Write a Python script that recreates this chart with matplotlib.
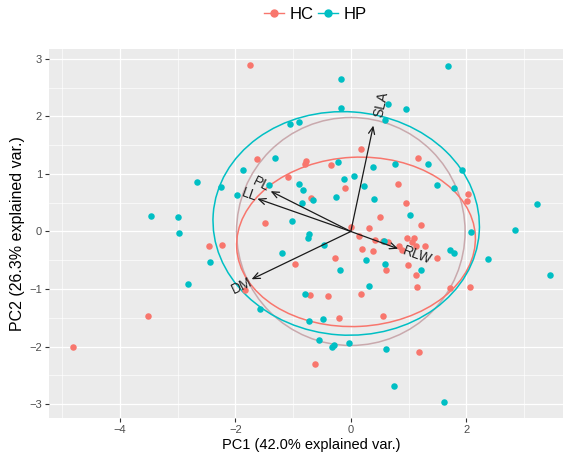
import numpy as np
import matplotlib
matplotlib.use("Agg")
import matplotlib.pyplot as plt
from matplotlib.patches import Ellipse, Circle
from matplotlib.lines import Line2D

plt.rcParams['font.family'] = ['Liberation Sans', 'DejaVu Sans']

# PCA scores
hc_x = [-1.75, -1.63, -1.09, -1.49, 0.17, -0.77, -0.79, -0.35, 1.16, -0.10,
        0.82, 2.03, 2.02, -0.69, 0.96, 0.51, 1.22, 0.00, 0.31, 0.97,
        1.09, 1.06, 0.14, 0.42, 0.55, 0.65, 0.19, 0.39, 0.84, 0.88,
        1.13, 1.29, 1.49, -0.28, 0.61, 0.99, 1.13, -0.96, 1.14, 1.72,
        2.07, -0.70, -0.40, 0.17, -0.21, 0.56, 1.18, -0.62, -2.45, -2.24,
        -1.83, -3.52, -4.82]
hc_y = [2.89, 1.26, 0.94, 0.15, 1.43, 1.23, 1.18, 1.15, 1.27, 0.75,
        0.82, 0.65, 0.53, 0.58, 0.50, 0.26, 0.11, 0.08, 0.06, -0.12,
        -0.12, -0.18, -0.08, -0.14, -0.16, -0.19, -0.30, -0.34, -0.26, -0.32,
        -0.25, -0.25, -0.46, -0.46, -0.67, -0.59, -0.75, -0.56, -0.96, -0.98,
        -0.97, -1.11, -1.12, -1.08, -1.51, -1.47, -2.10, -2.31, -0.26, -0.23,
        -1.02, -1.47, -2.00]

hp_x = [-1.05, -0.90, -1.32, -1.87, -0.89, -2.66, -2.25, -1.98, -1.41, -1.02,
        -3.46, -2.99, -2.98, -1.20, -2.44, -2.83, -1.58, 1.68, -0.17, -0.17,
        0.65, 0.96, 0.60, -0.23, 0.39, 0.77, 1.34, 1.92, -0.11, 0.05,
        -0.83, 0.22, 1.50, 1.79, -0.66, -0.25, 0.40, -0.85, 1.03, 3.22,
        2.08, 2.85, -0.73, -0.74, 0.58, -0.46, 1.72, 1.79, 2.37, 3.46,
        0.27, 0.59, 1.21, -0.19, 0.31, -0.79, -0.72, -0.49, -0.56, -0.32,
        -0.29, -0.03, 0.61, 0.75, 1.61]
hp_y = [1.87, 1.90, 1.27, 1.07, 0.83, 0.86, 0.78, 0.64, 0.81, 0.19,
        0.27, 0.26, -0.03, -0.37, -0.53, -0.92, -1.35, 2.87, 2.65, 2.14,
        2.22, 2.12, 1.93, 1.21, 1.12, 1.18, 1.18, 1.07, 0.91, 0.97,
        0.72, 0.79, 0.81, 0.75, 0.55, 0.60, 0.57, 0.49, 0.28, 0.47,
        -0.01, 0.03, -0.05, -0.11, -0.17, -0.24, -0.33, -0.38, -0.48, -0.75,
        -0.50, -0.57, -0.67, -0.67, -0.94, -1.08, -1.55, -1.52, -1.88, -2.00,
        -1.97, -1.93, -2.05, -2.68, -2.96]

# variable loadings (arrow tips) and label positions
var_names = ['SLA', 'PL', 'LL', 'DM', 'RLW']
var_x = [0.39, -1.39, -1.62, -1.72, 0.82]
var_y = [1.84, 0.70, 0.57, -0.83, -0.30]
lab_x = [0.52, -1.56, -1.75, -1.89, 1.16]
lab_y = [2.21, 0.82, 0.63, -0.95, -0.41]

# group ellipses: centre x, centre y, width, height, angle
hc_ell = [0.09, -0.18, 4.14, 2.94, 3]
hp_ell = [-0.08, 0.14, 4.62, 3.88, -4]
circle_r = 1.98

red = '#F8766D'
cyan = '#00BFC4'

fig = plt.figure(figsize=(5.63, 4.57), dpi=100)
# panel runs a little past the right edge of the picture (cropped original)
ax = fig.add_axes([49 / 563, 1 - 418 / 457, (573 - 49) / 563, (418 - 49) / 457])
ax.set_facecolor('#EBEBEB')
ax.set_xlim(-5.23, 3.85)
ax.set_ylim(-3.24, 3.17)

ax.set_xticks([-4, -2, 0, 2])
ax.set_xticks([-5, -3, -1, 1, 3], minor=True)
ax.set_yticks([-3, -2, -1, 0, 1, 2, 3])
ax.set_yticks(np.arange(-3, 3.1, 0.5), minor=True)
ax.grid(which='major', color='white', linewidth=0.9)
ax.grid(which='minor', color='white', linewidth=0.45)
ax.set_axisbelow(True)
for s in ax.spines.values():
    s.set_visible(False)
ax.tick_params(which='major', length=3, width=0.8, color='#333333',
               labelcolor='#4D4D4D', labelsize=8, pad=2)
ax.tick_params(which='minor', length=0)

ax.add_patch(Circle((0, 0), circle_r, fill=False, color='#C9A9AD', lw=1.1))
ax.add_patch(Ellipse(hc_ell[:2], hc_ell[2], hc_ell[3], angle=hc_ell[4],
                     fill=False, color=red, lw=1.1))
ax.add_patch(Ellipse(hp_ell[:2], hp_ell[2], hp_ell[3], angle=hp_ell[4],
                     fill=False, color=cyan, lw=1.1))

ax.scatter(hc_x, hc_y, s=22, color=red, zorder=3, linewidths=0)
ax.scatter(hp_x, hp_y, s=22, color=cyan, zorder=3, linewidths=0)

for name, vx, vy, lx, ly in zip(var_names, var_x, var_y, lab_x, lab_y):
    ax.annotate('', xy=(vx, vy), xytext=(0, 0),
                arrowprops=dict(arrowstyle='->,head_length=0.5,head_width=0.22',
                                color='#1A1A1A', lw=0.9, shrinkA=0, shrinkB=0),
                zorder=4)
    px = vx * 57.7
    py = vy * 57.5
    ang = np.degrees(np.arctan(py / px))
    ax.text(lx, ly, name, rotation=ang, rotation_mode='anchor', ha='center',
            va='center', fontsize=10, color='#222222', zorder=5)

ax.set_xlabel('PC1 (42.0% explained var.)', fontsize=10.5, color='black', labelpad=2)
ax.set_ylabel('PC2 (26.3% explained var.)', fontsize=11.5, color='black', labelpad=3)

handles = [Line2D([], [], color=red, marker='o', markersize=5, lw=1),
           Line2D([], [], color=cyan, marker='o', markersize=5, lw=1)]
fig.legend(handles, ['HC', 'HP'], loc='center', bbox_to_anchor=(0.56, 0.968),
           ncol=2, frameon=False, fontsize=12, handlelength=1.2,
           handletextpad=0.35, columnspacing=0.25)

fig.savefig('out.png', dpi=100)
